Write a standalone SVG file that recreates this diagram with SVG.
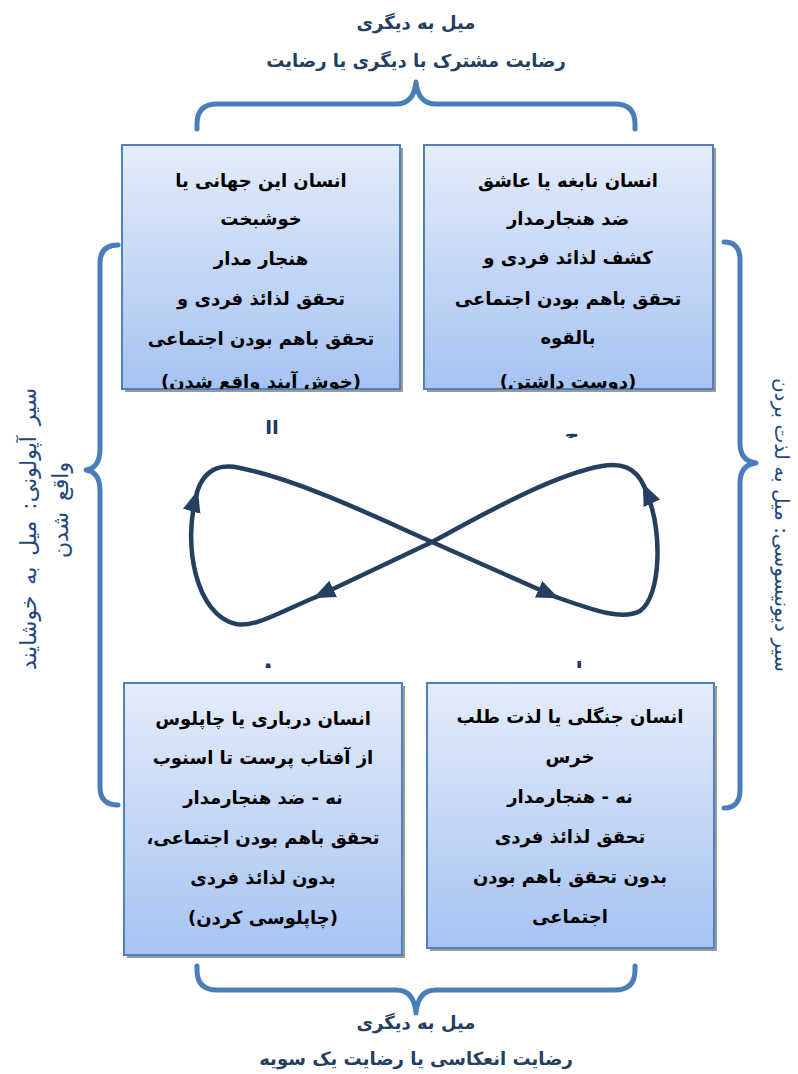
<svg xmlns="http://www.w3.org/2000/svg" width="798" height="1074" viewBox="0 0 798 1074">
<defs>
<linearGradient id="boxg" x1="0" y1="0" x2="0" y2="1">
<stop offset="0" stop-color="#e4ecfa"/>
<stop offset="1" stop-color="#a6c3f2"/>
</linearGradient>
<marker id="arr" markerUnits="userSpaceOnUse" markerWidth="26" markerHeight="22" refX="19" refY="9" orient="auto" viewBox="0 0 26 22">
<path d="M0,0 L22,9 L0,18 z" fill="#243f60"/>
</marker>
<clipPath id="cTL"><rect x="122" y="145" width="278" height="244"/></clipPath>
<clipPath id="cTR"><rect x="424" y="145" width="289" height="244"/></clipPath>
<clipPath id="cFrag1"><rect x="250" y="420" width="45" height="16"/></clipPath>
<clipPath id="cFrag2"><rect x="550" y="424" width="45" height="14"/></clipPath>
<clipPath id="cFrag3"><rect x="250" y="656" width="45" height="12"/></clipPath>
<clipPath id="cFrag4"><rect x="550" y="656" width="45" height="12"/></clipPath>
</defs>
<style>
.box{fill:url(#boxg);stroke:#4f81bd;stroke-width:2}
.shadow{fill:#9a9a9a}
.bt{font-family:"DejaVu Sans",sans-serif;font-weight:bold;font-size:18px;fill:#000;text-anchor:middle}
.ht{font-family:"DejaVu Sans",sans-serif;font-weight:bold;font-size:18px;fill:#243f60;text-anchor:middle}
.st{font-family:"DejaVu Sans",sans-serif;font-size:22px;word-spacing:4px;fill:#1f497d;text-anchor:middle}
.st2{font-family:"DejaVu Sans",sans-serif;font-size:20px;fill:#1f497d;text-anchor:middle}
.brace{fill:none;stroke:#4a7ebb;stroke-width:5;stroke-linecap:round;stroke-linejoin:round}
.loop{fill:none;stroke:#243f60;stroke-width:4.5;stroke-linecap:round}
.frag{font-family:"DejaVu Sans",sans-serif;font-weight:bold;font-size:20px;fill:#1f3864;text-anchor:middle}
</style>
<rect width="798" height="1074" fill="#fff"/>

<g id="title-top">
<text class="ht" x="416" y="29" direction="rtl">میل به دیگری</text>
<text class="ht" x="416" y="67" direction="rtl">رضایت مشترک با دیگری یا رضایت</text>
</g>
<g id="title-bottom">
<text class="ht" x="416" y="1029" direction="rtl">میل به دیگری</text>
<text class="ht" x="416" y="1065" direction="rtl">رضایت انعکاسی یا رضایت یک سویه</text>
</g>
<g id="side-left">
<text class="st" transform="translate(36,529) rotate(-90)" direction="rtl">سیر آپولونی:  میل به خوشایند</text>
<text class="st" transform="translate(68,510) rotate(-90)" direction="rtl">واقع شدن</text>
</g>
<g id="side-right">
<text class="st2" transform="translate(775,525) rotate(90)" direction="rtl">سیر دیونیسوسی: میل به لذت بردن</text>
</g>

<g id="braces">
<path class="brace" d="M197,129 L197,124 Q197,104 217,104 L396,104 Q414,104 416,82 Q418,104 436,104 L615,104 Q635,104 635,124 L635,129"/>
<path class="brace" d="M197,966 L197,970 Q197,990 217,990 L396,990 Q414,990 416,1013 Q418,990 436,990 L615,990 Q635,990 635,970 L635,966"/>
<path class="brace" d="M118,245 Q100,245 100,263 L100,449 Q100,468 86,470 Q100,472 100,491 L100,787 Q100,805 118,805"/>
<path class="brace" d="M724,242 Q740,242 740,260 L740,443 Q740,461 756,463 Q740,465 740,483 L740,790 Q740,808 724,808"/>
</g>

<g id="node-tl">
<rect class="shadow" x="125" y="148" width="278" height="244"/>
<rect class="box" x="122" y="145" width="278" height="244"/>
<g clip-path="url(#cTL)">
<text class="bt" x="261" y="187" direction="rtl">انسان این جهانی یا</text>
<text class="bt" x="261" y="225" direction="rtl">خوشبخت</text>
<text class="bt" x="261" y="265" direction="rtl">هنجار مدار</text>
<text class="bt" x="261" y="305" direction="rtl">تحقق لذائذ فردی و</text>
<text class="bt" x="261" y="345" direction="rtl">تحقق باهم بودن اجتماعی</text>
<text class="bt" x="261" y="388" direction="rtl">(خوش آیند واقع شدن)</text>
</g>
</g>
<g id="node-tr">
<rect class="shadow" x="427" y="148" width="289" height="244"/>
<rect class="box" x="424" y="145" width="289" height="244"/>
<g clip-path="url(#cTR)">
<text class="bt" x="568" y="187" direction="rtl">انسان نابغه یا عاشق</text>
<text class="bt" x="568" y="225" direction="rtl">ضد هنجارمدار</text>
<text class="bt" x="568" y="264" direction="rtl">کشف لذائد فردی و</text>
<text class="bt" x="568" y="305" direction="rtl">تحقق باهم بودن اجتماعی</text>
<text class="bt" x="568" y="344" direction="rtl">بالقوه</text>
<text class="bt" x="568" y="388" direction="rtl">(دوست داشتن)</text>
</g>
</g>
<g id="node-bl">
<rect class="shadow" x="127" y="686" width="278" height="272"/>
<rect class="box" x="124" y="683" width="278" height="272"/>
<text class="bt" x="263" y="725" direction="rtl">انسان درباری یا چاپلوس</text>
<text class="bt" x="263" y="764" direction="rtl">از آفتاب پرست تا اسنوب</text>
<text class="bt" x="263" y="804" direction="rtl">نه - ضد هنجارمدار</text>
<text class="bt" x="263" y="844" direction="rtl">تحقق باهم بودن اجتماعی،</text>
<text class="bt" x="263" y="884" direction="rtl">بدون لذائذ فردی</text>
<text class="bt" x="263" y="924" direction="rtl">(چاپلوسی کردن)</text>
</g>
<g id="node-br">
<rect class="shadow" x="430" y="686" width="287" height="265"/>
<rect class="box" x="427" y="683" width="287" height="265"/>
<text class="bt" x="570" y="723" direction="rtl">انسان جنگلی یا لذت طلب</text>
<text class="bt" x="570" y="763" direction="rtl">خرس</text>
<text class="bt" x="570" y="803" direction="rtl">نه - هنجارمدار</text>
<text class="bt" x="570" y="843" direction="rtl">تحقق لذائذ فردی</text>
<text class="bt" x="570" y="883" direction="rtl">بدون تحقق باهم بودن</text>
<text class="bt" x="570" y="923" direction="rtl">اجتماعی</text>
</g>

<g id="fragments">
<text class="frag" x="272" y="434" clip-path="url(#cFrag1)">اا</text>
<text class="frag" x="572" y="442" clip-path="url(#cFrag2)">ح</text>
<text class="frag" x="272" y="676" clip-path="url(#cFrag3)" direction="rtl">.۸</text>
<text class="frag" x="572" y="676" clip-path="url(#cFrag4)" direction="rtl">ا ،</text>
</g>

<g id="connectors">
<path class="loop" marker-end="url(#arr)" d="M197,492 C205,467 222,464 240,468 C300,480 380,519 432,542 L556,597"/>
<path class="loop" marker-end="url(#arr)" d="M556,597 C598,612 623,620 640,611 C661,596 664,530 644,486"/>
<path class="loop" marker-end="url(#arr)" d="M644,486 C635,466 620,463 602,466 C552,475 482,515 432,542 L316,597"/>
<path class="loop" marker-end="url(#arr)" d="M316,597 C284,610 255,628 236,624 C196,615 182,545 197,493"/>
</g>
</svg>
